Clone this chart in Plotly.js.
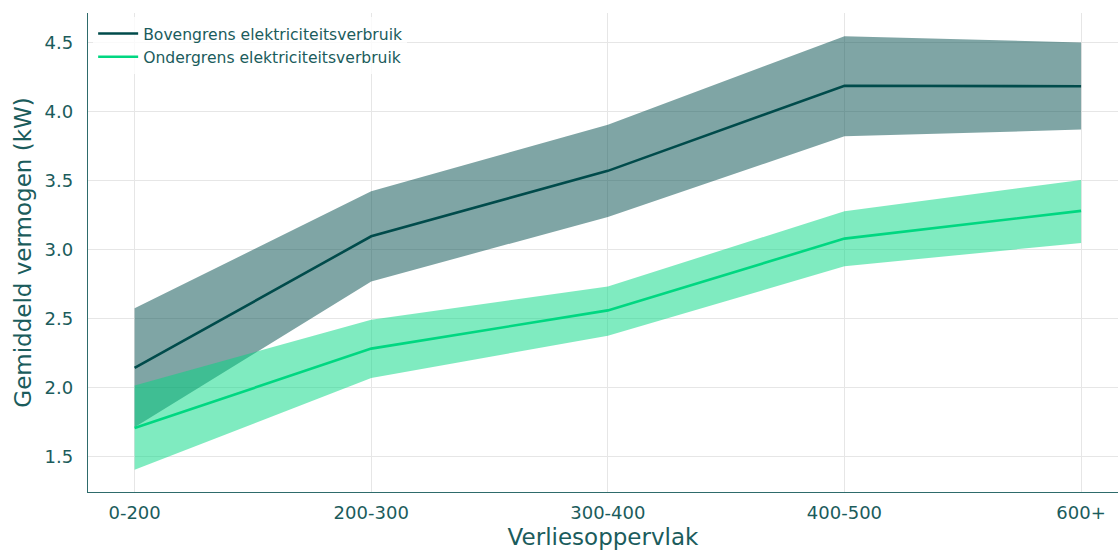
<!DOCTYPE html>
<html>
<head>
<meta charset="utf-8">
<script src="https://cdn.plot.ly/plotly-3.0.1.min.js"></script>
<style>html,body{margin:0;padding:0;background:#fff;}#chart{width:1118px;height:551px;}</style>
</head>
<body>
<div id="chart"></div>
<script>
const categories = ["0-200", "200-300", "300-400", "400-500", "600+"];
const upperMean = [2.145, 3.099, 3.573, 4.190, 4.186];
const upperHigh = [2.577, 3.425, 3.908, 4.548, 4.504];
const upperLow  = [1.715, 2.772, 3.239, 3.823, 3.872];
const lowerMean = [1.710, 2.285, 2.562, 3.082, 3.283];
const lowerHigh = [2.017, 2.495, 2.736, 3.280, 3.507];
const lowerLow  = [1.408, 2.072, 2.379, 2.881, 3.051];
const yTicks = [1.5, 2.0, 2.5, 3.0, 3.5, 4.0, 4.5];
const yTickText = ["1.5", "2.0", "2.5", "3.0", "3.5", "4.0", "4.5"];
const seriesNames = ["Bovengrens elektriciteitsverbruik", "Ondergrens elektriciteitsverbruik"];

const textColor = "#1b5c5c";
const darkColor = "#004b4b";
const greenColor = "#00d781";

const idx = categories.map((c, i) => i);
const polyX = idx.concat(idx.slice().reverse());

const traces = [
  {x: polyX, y: upperHigh.concat(upperLow.slice().reverse()), fill: "toself", mode: "lines",
   line: {width: 0}, fillcolor: "rgba(0,75,75,0.5)", showlegend: false, hoverinfo: "skip"},
  {x: polyX, y: lowerHigh.concat(lowerLow.slice().reverse()), fill: "toself", mode: "lines",
   line: {width: 0}, fillcolor: "rgba(0,215,129,0.5)", showlegend: false, hoverinfo: "skip"},
  {x: idx, y: upperMean, mode: "lines", name: seriesNames[0], line: {color: darkColor, width: 2.6}},
  {x: idx, y: lowerMean, mode: "lines", name: seriesNames[1], line: {color: greenColor, width: 2.6}}
];

const layout = {
  width: 1118, height: 551,
  margin: {l: 88, r: 0, t: 13, b: 59},
  paper_bgcolor: "#fff", plot_bgcolor: "#fff",
  font: {family: "DejaVu Sans", color: textColor},
  showlegend: true,
  legend: {x: 0.005, y: 0.992, xanchor: "left", yanchor: "top", bgcolor: "rgba(255,255,255,0.8)",
           font: {size: 15.6, color: textColor}, tracegroupgap: 0, itemwidth: 40},
  xaxis: {
    range: [-0.197, 4.156], tickvals: idx, ticktext: categories,
    showgrid: true, gridcolor: "#e6e6e6", gridwidth: 1,
    showline: true, linecolor: "#2e6b6b", linewidth: 1.3,
    zeroline: false, ticks: "outside", ticklen: 4, tickcolor: "rgba(0,0,0,0)",
    tickfont: {size: 18, color: textColor},
    title: {text: "Verliesoppervlak", font: {size: 23, color: textColor}, standoff: 7}
  },
  yaxis: {
    range: [1.246, 4.717], tickvals: yTicks, ticktext: yTickText,
    showgrid: true, gridcolor: "#e6e6e6", gridwidth: 1,
    showline: true, linecolor: "#2e6b6b", linewidth: 1.3,
    zeroline: false, ticks: "outside", ticklen: 10, tickcolor: "rgba(0,0,0,0)",
    tickfont: {size: 18, color: textColor},
    title: {text: "Gemiddeld vermogen (kW)", font: {size: 23, color: textColor}, standoff: 6}
  }
};

Plotly.newPlot("chart", traces, layout, {displayModeBar: false, staticPlot: true});
</script>
</body>
</html>
